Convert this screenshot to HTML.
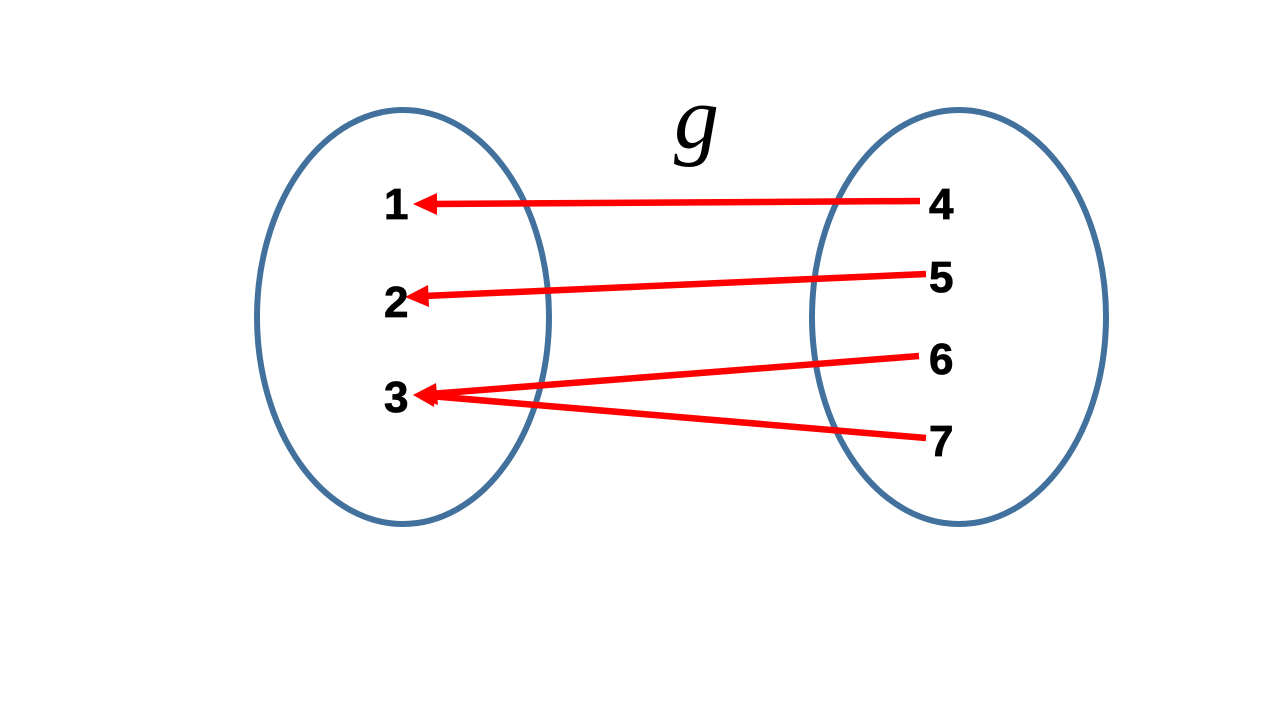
<!DOCTYPE html>
<html><head><meta charset="utf-8"><style>
html,body{margin:0;padding:0;background:#fff;width:1280px;height:720px;overflow:hidden}
</style></head><body>
<svg width="1280" height="720" xmlns="http://www.w3.org/2000/svg">
<ellipse cx="403" cy="317" rx="146" ry="207" fill="none" stroke="#41719C" stroke-width="6"/>
<ellipse cx="959" cy="317" rx="147" ry="207" fill="none" stroke="#41719C" stroke-width="6"/>
<g stroke="#FF0000" stroke-width="6.5" fill="none">
<line x1="920" y1="201" x2="430" y2="204"/>
<line x1="926" y1="274" x2="424" y2="296"/>
<line x1="919" y1="356" x2="430" y2="394"/>
<line x1="926" y1="438" x2="430" y2="396"/>
</g>
<g fill="#FF0000">
<polygon points="413,204 437,193 437,215"/>
<polygon points="405,297 428,285 429,307"/>
<polygon points="413,395 436,383 438,405"/>
<polygon points="413,395 436,385 434,407"/>
</g>
<g font-family="Liberation Sans, sans-serif" font-weight="bold" font-size="44" fill="#000" stroke="#000" stroke-width="0.8">
<text x="384" y="219">1</text>
<text x="384" y="317">2</text>
<text x="384" y="412">3</text>
<text x="929" y="219">4</text>
<text x="929" y="292">5</text>
<text x="929" y="374">6</text>
<text x="929" y="456">7</text>
</g>
<text x="674" y="148" font-family="Liberation Serif, serif" font-style="italic" font-size="90" fill="#000">g</text>
</svg>
</body></html>
